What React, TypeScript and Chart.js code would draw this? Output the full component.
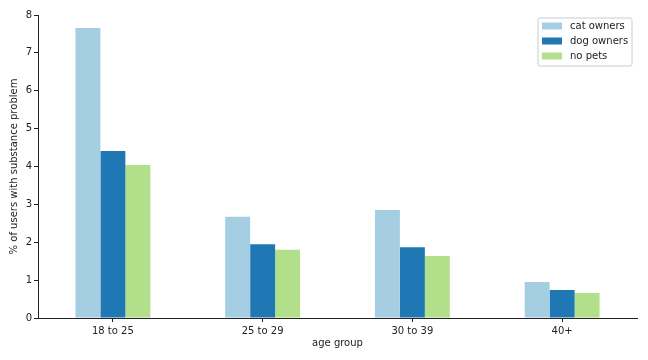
import React, { useEffect, useRef } from "react";
import { Chart, registerables } from "chart.js";

Chart.register(...registerables);

const categories = ["18 to 25", "25 to 29", "30 to 39", "40+"];
const catOwners = [7.66, 2.67, 2.85, 0.95];
const dogOwners = [4.41, 1.95, 1.87, 0.74];
const noPets = [4.04, 1.8, 1.64, 0.66];
const seriesNames = ["cat owners", "dog owners", "no pets"];
const seriesColors = ["#a6cee3", "#1f78b4", "#b2df8a"];

const FONT = "'DejaVu Sans', sans-serif";

const legendPlugin = {
  id: "insideLegend",
  afterDraw(chart: any) {
    const ctx = chart.ctx;
    const x0 = 538, y0 = 18, w = 94, h = 48;
    ctx.save();
    ctx.beginPath();
    const r = 2;
    ctx.moveTo(x0 + r, y0);
    ctx.lineTo(x0 + w - r, y0);
    ctx.quadraticCurveTo(x0 + w, y0, x0 + w, y0 + r);
    ctx.lineTo(x0 + w, y0 + h - r);
    ctx.quadraticCurveTo(x0 + w, y0 + h, x0 + w - r, y0 + h);
    ctx.lineTo(x0 + r, y0 + h);
    ctx.quadraticCurveTo(x0, y0 + h, x0, y0 + h - r);
    ctx.lineTo(x0, y0 + r);
    ctx.quadraticCurveTo(x0, y0, x0 + r, y0);
    ctx.closePath();
    ctx.fillStyle = "rgba(255,255,255,0.8)";
    ctx.fill();
    ctx.strokeStyle = "#cccccc";
    ctx.lineWidth = 1;
    ctx.stroke();
    ctx.font = `10px ${FONT}`;
    ctx.textBaseline = "middle";
    ctx.textAlign = "left";
    chart.data.datasets.forEach((ds: any, i: number) => {
      const cy = y0 + 8 + i * 15;
      ctx.fillStyle = ds.backgroundColor;
      ctx.fillRect(x0 + 4, cy - 3.5, 20, 7);
      ctx.fillStyle = "#222";
      ctx.fillText(ds.label, x0 + 32, cy);
    });
    ctx.restore();
  },
};

export default function App() {
  const ref = useRef<HTMLCanvasElement>(null);
  useEffect(() => {
    document.body.style.margin = "0";
    const seriesData = [catOwners, dogOwners, noPets];
    const chart = new Chart(ref.current!, {
      type: "bar",
      data: {
        labels: categories,
        datasets: seriesNames.map((name, i) => ({
          label: name,
          data: seriesData[i],
          backgroundColor: seriesColors[i],
          borderWidth: 0,
          barPercentage: 1,
          categoryPercentage: 0.5,
        })),
      },
      options: {
        animation: false,
        responsive: false,
        maintainAspectRatio: false,
        layout: { padding: { top: 15, right: 11, left: 0, bottom: 0 } },
        plugins: {
          legend: { display: false },
          tooltip: { enabled: false },
        },
        scales: {
          x: {
            grid: {
              display: true,
              drawOnChartArea: false,
              drawTicks: true,
              tickLength: 4,
              offset: false,
              color: "#222",
            },
            border: { display: true, color: "#222", width: 1 },
            ticks: { color: "#222", font: { family: FONT, size: 10 }, padding: 3, maxRotation: 0 },
            title: {
              display: true,
              text: "age group",
              color: "#222",
              font: { family: FONT, size: 10 },
              padding: { top: 0, bottom: 11 },
            },
            afterFit(scale: any) {
              scale.height = 42;
            },
          },
          y: {
            min: 0,
            max: 8,
            ticks: { stepSize: 1, color: "#222", font: { family: FONT, size: 10 }, padding: 2 },
            grid: {
              display: true,
              drawOnChartArea: false,
              drawTicks: true,
              tickLength: 4,
              color: "#222",
            },
            border: { display: true, color: "#222", width: 1 },
            title: {
              display: true,
              text: "% of users with substance problem",
              color: "#222",
              font: { family: FONT, size: 10 },
              padding: { top: 8, bottom: 0 },
            },
            afterFit(scale: any) {
              scale.width = 38;
            },
          },
        },
      },
      plugins: [legendPlugin],
    });
    return () => chart.destroy();
  }, []);
  return (
    <div style={{ width: 648, height: 360 }}>
      <canvas ref={ref} width={648} height={360} style={{ display: "block" }} />
    </div>
  );
}
